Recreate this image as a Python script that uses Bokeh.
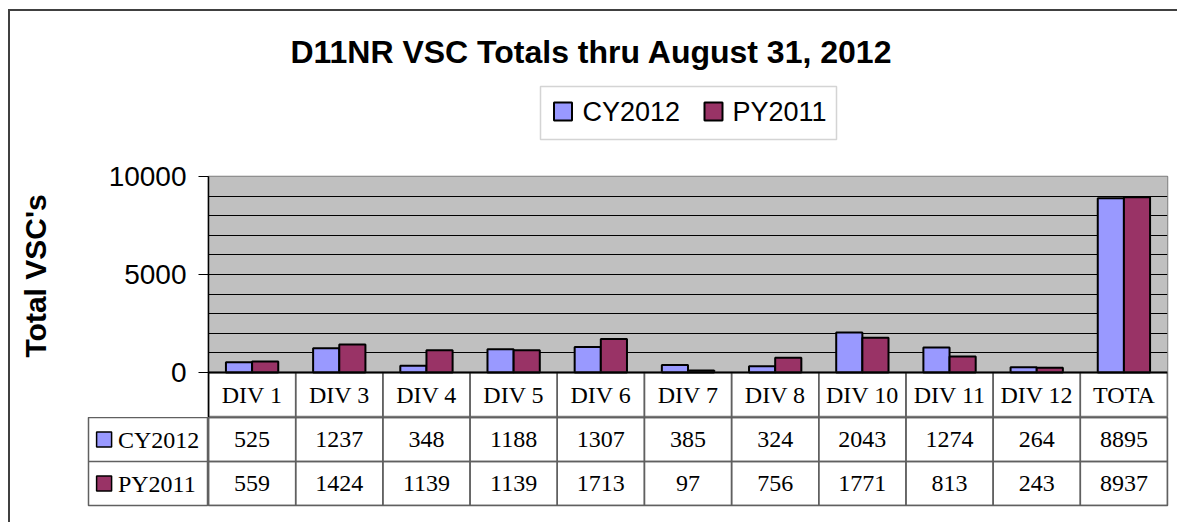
from math import pi
from bokeh.plotting import figure
from bokeh.layouts import column, row
from bokeh.models import (Range1d, FactorRange, FixedTicker, BoxAnnotation, Span,
                          Label, ColumnDataSource)
from bokeh.transform import dodge
from bokeh.core.properties import value
from bokeh.embed import file_html
from bokeh.resources import INLINE

# ---------------- data ----------------
title_text = "D11NR VSC Totals thru August 31, 2012"
y_title = "Total VSC's"
categories = ["DIV 1", "DIV 3", "DIV 4", "DIV 5", "DIV 6", "DIV 7", "DIV 8",
              "DIV 10", "DIV 11", "DIV 12", "TOTA"]
cy2012 = [525, 1237, 348, 1188, 1307, 385, 324, 2043, 1274, 264, 8895]
py2011 = [559, 1424, 1139, 1139, 1713, 97, 756, 1771, 813, 243, 8937]
series_names = ["CY2012", "PY2011"]
y_ticks = [0, 5000, 10000]
grid_values = [1000, 2000, 3000, 4000, 5000, 6000, 7000, 8000, 9000]

# ---------------- layout / style ----------------
COL_CY, COL_PY = "#9999FF", "#993366"
series_colors = [COL_CY, COL_PY]
SANS, SERIF = "Liberation Sans", "Liberation Serif"
TABLE_LINE = "#606060"
TABLE_FONT = "24px"
Y_MAX = y_ticks[-1]
CHART_H, HDR_H = 196, 45
FIG_KW = dict(output_backend="svg", toolbar_location=None)

# legend layout (page pixels)
LEG_BOX = dict(left=540, right=836, top=86, bottom=139)
LEG_SWATCH_X = [562.5, 713]
LEG_TEXT_X = [582, 732]
LEG_Y = 111


def bare(f):
    f.xaxis.visible = False
    f.yaxis.visible = False
    f.xgrid.visible = False
    f.ygrid.visible = False
    f.outline_line_color = None
    f.background_fill_color = "white"
    f.border_fill_color = "white"


# ---- top strip: title + legend ----
top = figure(width=1150, height=149, x_range=Range1d(10, 1160), y_range=Range1d(160, 11),
             min_border=0, **FIG_KW)
bare(top)
top.add_layout(Label(x=591, y=51, text=title_text, text_align="center", text_baseline="middle",
                     text_font=SANS, text_font_style="bold", text_font_size="32px",
                     text_color="black"))
top.add_layout(BoxAnnotation(**LEG_BOX, fill_color="white", fill_alpha=1,
                             line_color="#707070", line_width=1.5, level="underlay"))
lsrc = ColumnDataSource(dict(name=series_names, color=series_colors, sx=LEG_SWATCH_X,
                             tx=LEG_TEXT_X, y=[LEG_Y] * len(series_names)))
top.rect(x="sx", y="y", width=18, height=18, width_units="screen", height_units="screen",
         source=lsrc, fill_color="color", line_color="black", line_width=2)
top.text(x="tx", y="y", text="name", source=lsrc, text_align="left",
         text_baseline="middle", text_font=value(SANS), text_font_size="27px",
         text_color="black")

# ---- y-axis title strip ----
yt = figure(width=50, height=257, x_range=Range1d(10, 60), y_range=Range1d(417, 160),
            min_border=0, **FIG_KW)
bare(yt)
yt.add_layout(Label(x=35, y=266, text=y_title, angle=pi / 2, text_align="center",
                    text_baseline="middle", text_font=SANS, text_font_style="bold",
                    text_font_size="30px", text_color="black"))

# ---- main chart (+ table header row) ----
main = figure(width=1117, height=257, x_range=FactorRange(*categories),
              y_range=Range1d(-Y_MAX * HDR_H / CHART_H, Y_MAX),
              min_border_left=148, min_border_right=10, min_border_top=16,
              min_border_bottom=0, **FIG_KW)
main.extra_y_ranges = {"hdr": Range1d(0, (CHART_H + HDR_H) / HDR_H)}
main.background_fill_color = "white"
main.border_fill_color = "white"
main.outline_line_color = "#808080"
main.outline_line_width = 1.5
main.xaxis.visible = False
main.xgrid.visible = False
main.ygrid.ticker = FixedTicker(ticks=grid_values)
main.ygrid.grid_line_color = "black"
main.ygrid.grid_line_width = 1

yax = main.yaxis[0]
yax.ticker = FixedTicker(ticks=y_ticks)
yax.major_label_text_font = SANS
yax.major_label_text_font_size = "28px"
yax.major_label_text_color = "black"
yax.major_tick_out = 10
yax.major_tick_in = 0
yax.minor_tick_out = 0
yax.minor_tick_in = 0
yax.major_tick_line_color = "black"
yax.axis_line_color = "black"
yax.axis_line_width = 1.5
yax.major_label_standoff = 12

main.add_layout(BoxAnnotation(bottom=0, top=Y_MAX, fill_color="#C0C0C0", fill_alpha=1,
                              line_alpha=0, level="image"))

src = ColumnDataSource(dict(cat=categories, cy=cy2012, py=py2011))
r_cy = main.vbar(x=dodge("cat", -0.15, range=main.x_range), top="cy", width=0.3, source=src,
                 fill_color=COL_CY, line_color="black", line_width=2)
r_py = main.vbar(x=dodge("cat", 0.15, range=main.x_range), top="py", width=0.3, source=src,
                 fill_color=COL_PY, line_color="black", line_width=2)

hsrc = ColumnDataSource(dict(cat=categories, row=[0.5] * len(categories), txt=categories))
main.rect(x="cat", y="row", width=1, height=1, source=hsrc, y_range_name="hdr",
          fill_alpha=0, line_color=TABLE_LINE, line_width=1.5)
main.text(x="cat", y="row", text="txt", source=hsrc, y_range_name="hdr",
          text_align="center", text_baseline="middle", text_font=value(SERIF),
          text_font_size=TABLE_FONT, text_color="black")
main.add_layout(Span(location=0, dimension="width", line_color="black", line_width=2))

# ---- table body ----
tb = figure(width=969, height=105, x_range=main.x_range, y_range=Range1d(0, 2),
            min_border_left=0, min_border_right=10, min_border_top=0,
            min_border_bottom=17, **FIG_KW)
bare(tb)
tb.outline_line_color = TABLE_LINE
tb.outline_line_width = 1.5
n = len(categories)
tsrc = ColumnDataSource(dict(cat=categories * 2, row=[1.5] * n + [0.5] * n,
                             txt=[str(v) for v in cy2012] + [str(v) for v in py2011]))
tb.rect(x="cat", y="row", width=1, height=1, source=tsrc,
        fill_alpha=0, line_color=TABLE_LINE, line_width=1.5)
tb.text(x="cat", y="row", text="txt", source=tsrc,
        text_align="center", text_baseline="middle", text_font=value(SERIF),
        text_font_size=TABLE_FONT, text_color="black")

# ---- table row headers ----
rh = figure(width=198, height=105, x_range=Range1d(0, 1), y_range=tb.y_range,
            min_border_left=78, min_border_right=0, min_border_top=0,
            min_border_bottom=17, **FIG_KW)
bare(rh)
rh.outline_line_color = TABLE_LINE
rh.outline_line_width = 1.5
rh.ygrid.visible = True
rh.ygrid.ticker = FixedTicker(ticks=[1])
rh.ygrid.grid_line_color = TABLE_LINE
rh.ygrid.grid_line_width = 1.5
rsrc = ColumnDataSource(dict(row=[1.5, 0.5], name=series_names, color=series_colors,
                             sx=[0.13, 0.13], tx=[0.245, 0.245]))
rh.rect(x="sx", y="row", width=15, height=15, width_units="screen", height_units="screen",
        source=rsrc, fill_color="color", line_color="black", line_width=1.5)
rh.text(x="tx", y="row", text="name", source=rsrc, text_align="left",
        text_baseline="middle", text_font=value(SERIF), text_font_size=TABLE_FONT,
        text_color="black")

layout = column(top, row(yt, main), row(rh, tb), margin=(9, 0, 0, 8),
                styles={"border-left": "2px solid #404040", "border-top": "2px solid #404040"})

open("out.html", "w").write(file_html(layout, INLINE))
